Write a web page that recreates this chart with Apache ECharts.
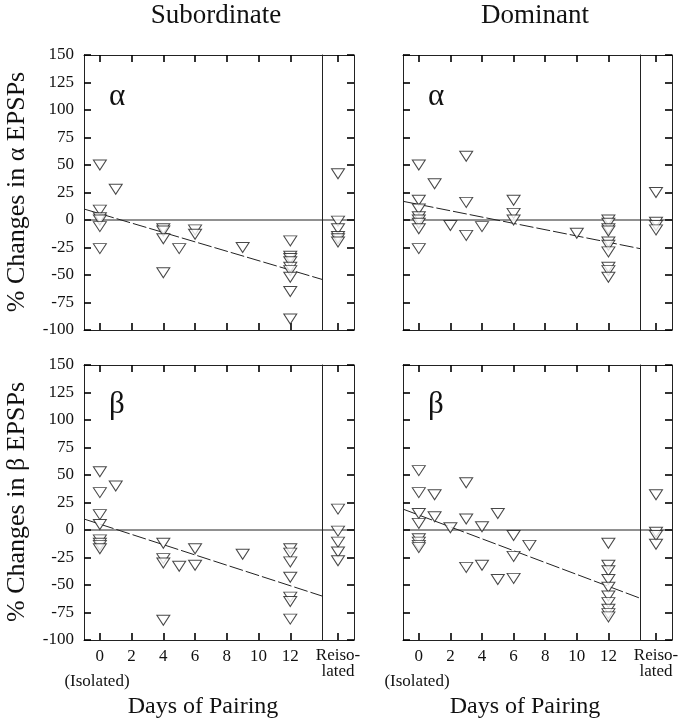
<!DOCTYPE html>
<html>
<head>
<meta charset="utf-8">
<script src="https://cdn.jsdelivr.net/npm/echarts@6/dist/echarts.min.js"></script>
<style>
html,body{margin:0;padding:0;background:#fff;}
#chart{width:684px;height:720px;}
</style>
</head>
<body>
<div id="chart"></div>
<script>
// ---------- DATA ----------
const dayCategories = ['-1', '0', '1', '2', '3', '4', '5', '6', '7', '8', '9', '10', '11', '12', '13', '14'];
const dayTicks = ['0', '2', '4', '6', '8', '10', '12'];
const reisoCategories = ['', 'Reiso-\nlated', ''];
const yTicksMin = -100, yTicksMax = 150, yTickStep = 25;
const columnTitles = ['Subordinate', 'Dominant'];
const rowTitles = ['% Changes in \u03b1 EPSPs', '% Changes in \u03b2 EPSPs'];
const rowGreek = ['\u03b1', '\u03b2'];
const isolatedLabel = '(Isolated)';
const xTitle = 'Days of Pairing';

// [day, % change]
const subAlphaPoints = [
  [0, 50], [0, 9], [0, 2], [0, 0], [0, -6], [0, -26],
  [1, 28],
  [4, -8], [4, -10], [4, -17], [4, -48],
  [5, -26],
  [6, -9], [6, -13],
  [9, -25],
  [12, -19], [12, -33], [12, -35], [12, -38], [12, -43], [12, -46], [12, -52], [12, -65], [12, -90]
];
const subAlphaReiso = [42, -1, -8, -15, -17, -20];
const subAlphaFit = [[-1, 10], [14, -54]];

const domAlphaPoints = [
  [0, 50], [0, 18], [0, 10], [0, 3], [0, 0], [0, -3], [0, -8], [0, -26],
  [1, 33],
  [2, -5],
  [3, 58], [3, 16], [3, -14],
  [4, -6],
  [6, 18], [6, 6], [6, 0],
  [10, -12],
  [12, 0], [12, -3], [12, -8], [12, -10], [12, -20], [12, -23], [12, -29], [12, -43], [12, -46], [12, -52]
];
const domAlphaReiso = [25, -2, -5, -9];
const domAlphaFit = [[-1, 17], [14, -26]];

const subBetaPoints = [
  [0, 53], [0, 34], [0, 14], [0, 5], [0, -9], [0, -12], [0, -14], [0, -17],
  [1, 40],
  [4, -12], [4, -26], [4, -30], [4, -82],
  [5, -33],
  [6, -17], [6, -32],
  [9, -22],
  [12, -17], [12, -21], [12, -29], [12, -43], [12, -61], [12, -65], [12, -81]
];
const subBetaReiso = [19, -1, -11, -20, -28];
const subBetaFit = [[-1, 10], [14, -60]];

const domBetaPoints = [
  [0, 54], [0, 34], [0, 15], [0, 6], [0, -8], [0, -11], [0, -14], [0, -16],
  [1, 32], [1, 12],
  [2, 2],
  [3, 43], [3, 10], [3, -34],
  [4, 3], [4, -32],
  [5, 15], [5, -45],
  [6, -5], [6, -24], [6, -44],
  [7, -14],
  [12, -12], [12, -32], [12, -37], [12, -45], [12, -52], [12, -60], [12, -66], [12, -72], [12, -76], [12, -79]
];
const domBetaReiso = [32, -2, -5, -13];
const domBetaFit = [[-1, 19], [14, -62]];

// ---------- LAYOUT ----------
const serif = 'Liberation Serif';
const ink = '#111';
const lineCol = '#222';
const tickCol = '#000';

const panels = [
  {left: 84, top: 55, w: 238, rw: 32, pts: subAlphaPoints, re: subAlphaReiso, fit: subAlphaFit, col: 0, row: 0},
  {left: 403, top: 55, w: 237, rw: 32, pts: domAlphaPoints, re: domAlphaReiso, fit: domAlphaFit, col: 1, row: 0},
  {left: 84, top: 365, w: 238, rw: 32, pts: subBetaPoints, re: subBetaReiso, fit: subBetaFit, col: 0, row: 1},
  {left: 403, top: 365, w: 237, rw: 32, pts: domBetaPoints, re: domBetaReiso, fit: domBetaFit, col: 1, row: 1}
];
const panelH = 275;

const grid = [], xAxis = [], yAxis = [], series = [];
const axLine = () => ({show: true, onZero: false, lineStyle: {color: lineCol, width: 1}});
const isDayTick = (i, v) => dayTicks.indexOf(String(v)) >= 0;
const isReisoTick = (i) => i === 1;
const tickIn = (intervalFn) => {
  const t = {show: true, inside: true, length: 7, lineStyle: {color: tickCol, width: 1.6}};
  if (intervalFn) t.interval = intervalFn;
  return t;
};
const symStyle = {color: '#fff', borderColor: '#1a1a1a', borderWidth: 1};
const toCat = (pts) => pts.map(([d, v]) => [String(d), v]);

panels.forEach((p, k) => {
  const bottomRow = p.row === 1;
  const leftCol = p.col === 0;
  grid.push({left: p.left, top: p.top, width: p.w, height: panelH});
  grid.push({left: p.left + p.w, top: p.top, width: p.rw, height: panelH});
  const gM = 2 * k, gR = 2 * k + 1;
  xAxis.push({
    type: 'category', data: dayCategories, boundaryGap: false, gridIndex: gM, position: 'bottom',
    axisLine: axLine(), axisTick: tickIn(isDayTick), splitLine: {show: false},
    axisLabel: {show: bottomRow, interval: isDayTick, color: ink, fontFamily: serif, fontSize: 17, margin: 8}
  });
  xAxis.push({
    type: 'category', data: dayCategories, boundaryGap: false, gridIndex: gM, position: 'top',
    axisLine: axLine(), axisTick: tickIn(isDayTick), splitLine: {show: false}, axisLabel: {show: false}
  });
  xAxis.push({
    type: 'category', data: reisoCategories, boundaryGap: false, gridIndex: gR, position: 'bottom',
    axisLine: axLine(), axisTick: tickIn(isReisoTick), splitLine: {show: false},
    axisLabel: {show: bottomRow, interval: isReisoTick,
      color: ink, fontFamily: serif, fontSize: 17, lineHeight: 16, margin: 8, align: 'center'}
  });
  xAxis.push({
    type: 'category', data: reisoCategories, boundaryGap: false, gridIndex: gR, position: 'top',
    axisLine: axLine(), axisTick: tickIn(isReisoTick), splitLine: {show: false}, axisLabel: {show: false}
  });
  yAxis.push({
    type: 'value', gridIndex: gM, min: yTicksMin, max: yTicksMax, interval: yTickStep, position: 'left',
    axisLine: axLine(), axisTick: tickIn(null), splitLine: {show: false},
    axisLabel: {show: leftCol, color: ink, fontFamily: serif, fontSize: 17, margin: 10}
  });
  yAxis.push({
    type: 'value', gridIndex: gM, min: yTicksMin, max: yTicksMax, interval: yTickStep, position: 'right',
    axisLine: axLine(), axisTick: {show: false}, splitLine: {show: false}, axisLabel: {show: false}
  });
  yAxis.push({
    type: 'value', gridIndex: gR, min: yTicksMin, max: yTicksMax, interval: yTickStep, position: 'left',
    axisLine: {show: false, onZero: false}, axisTick: {show: false}, splitLine: {show: false}, axisLabel: {show: false}
  });
  yAxis.push({
    type: 'value', gridIndex: gR, min: yTicksMin, max: yTicksMax, interval: yTickStep, position: 'right',
    axisLine: axLine(), axisTick: tickIn(null), splitLine: {show: false}, axisLabel: {show: false}
  });
  const xm = 4 * k, ym = 4 * k, xr = 4 * k + 2, yr = 4 * k + 2;
  series.push({type: 'line', xAxisIndex: xm, yAxisIndex: ym, data: [['-1', 0], ['14', 0]], symbol: 'none',
    lineStyle: {color: lineCol, width: 1}, silent: true, z: 1});
  series.push({type: 'line', xAxisIndex: xr, yAxisIndex: yr, data: [[0, 0], [2, 0]], symbol: 'none',
    lineStyle: {color: lineCol, width: 1}, silent: true, z: 1});
  series.push({type: 'line', xAxisIndex: xm, yAxisIndex: ym, data: toCat(p.fit), symbol: 'none',
    lineStyle: {color: lineCol, width: 1, type: [14, 3]}, silent: true, z: 1});
  series.push({type: 'scatter', xAxisIndex: xm, yAxisIndex: ym, data: toCat(p.pts),
    symbol: 'triangle', symbolRotate: 180, symbolSize: [13, 10], itemStyle: symStyle, z: 3});
  series.push({type: 'scatter', xAxisIndex: xr, yAxisIndex: yr, data: p.re.map(v => [1, v]),
    symbol: 'triangle', symbolRotate: 180, symbolSize: [13, 10], itemStyle: symStyle, z: 3});
});

const graphic = [];
const f = (px) => px + 'px "Liberation Serif", serif';
[[216, columnTitles[0]], [535, columnTitles[1]]].forEach(([x, t]) => {
  graphic.push({type: 'text', x: x, y: 16, style: {text: t, font: f(27), fill: ink, align: 'center', verticalAlign: 'middle'}});
});
[[192, rowTitles[0]], [502, rowTitles[1]]].forEach(([y, t]) => {
  graphic.push({type: 'text', x: 17, y: y, rotation: Math.PI / 2,
    style: {text: t, font: f(26), fill: ink, align: 'center', verticalAlign: 'middle'}});
});
panels.forEach(p => {
  graphic.push({type: 'text', x: p.left + 25, y: p.top + (p.row === 0 ? 42 : 40),
    style: {text: rowGreek[p.row], font: f(31), fill: ink, align: 'left', verticalAlign: 'middle'}});
});
[[97, 203], [417, 525]].forEach(([xi, xd]) => {
  graphic.push({type: 'text', x: xi, y: 682, style: {text: isolatedLabel, font: f(17), fill: ink, align: 'center', verticalAlign: 'middle'}});
  graphic.push({type: 'text', x: xd, y: 707, style: {text: xTitle, font: f(24), fill: ink, align: 'center', verticalAlign: 'middle'}});
});

const chart = echarts.init(document.getElementById('chart'), null, {renderer: 'canvas'});
chart.setOption({
  backgroundColor: '#fff',
  animation: false,
  textStyle: {fontFamily: serif},
  grid, xAxis, yAxis, series, graphic
});
</script>
</body>
</html>
